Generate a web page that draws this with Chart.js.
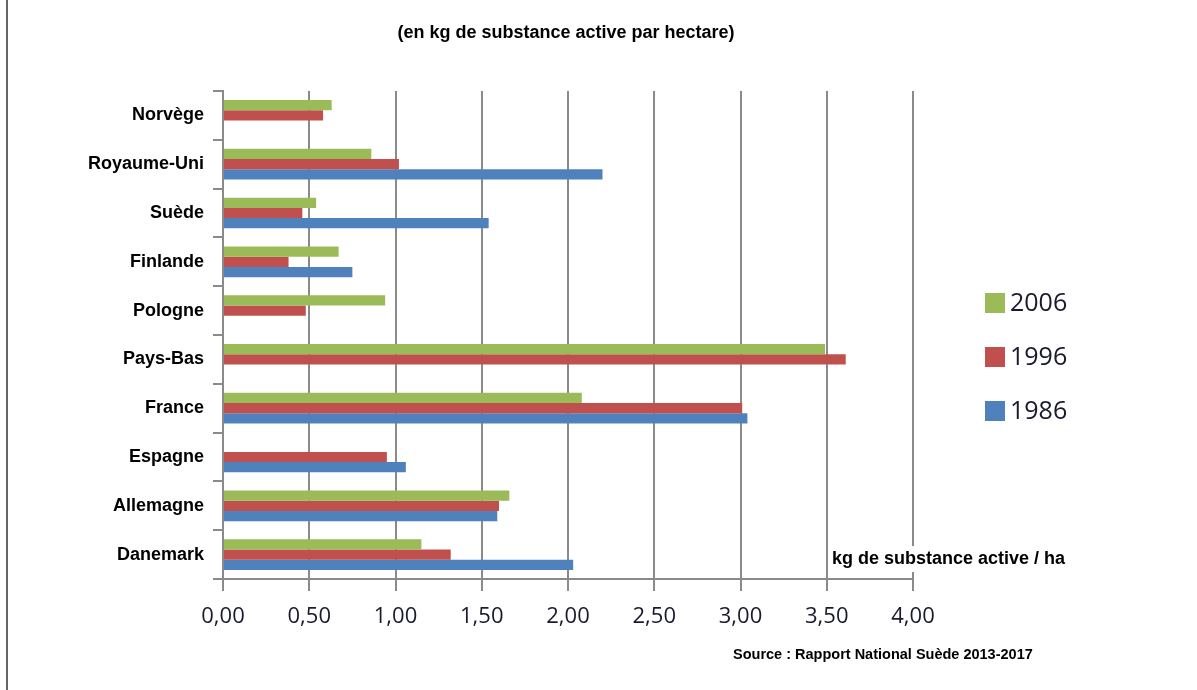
<!DOCTYPE html>
<html>
<head>
<meta charset="utf-8">
<script src="https://cdn.jsdelivr.net/npm/chart.js@4"></script>
<style>
  html, body { margin: 0; padding: 0; background: #fff; }
  #wrap { width: 1197px; height: 690px; }
</style>
</head>
<body>
<div id="wrap"><canvas id="myChart" width="1197" height="690"></canvas></div>
<script>
const categories = ["Norvège", "Royaume-Uni", "Suède", "Finlande", "Pologne", "Pays-Bas", "France", "Espagne", "Allemagne", "Danemark"];
const years = ["2006", "1996", "1986"];
const values2006 = [0.63, 0.86, 0.54, 0.67, 0.94, 3.49, 2.08, null, 1.66, 1.15];
const values1996 = [0.58, 1.02, 0.46, 0.38, 0.48, 3.61, 3.01, 0.95, 1.60, 1.32];
const values1986 = [null, 2.20, 1.54, 0.75, null, null, 3.04, 1.06, 1.59, 2.03];
const xTickLabels = ["0,00", "0,50", "1,00", "1,50", "2,00", "2,50", "3,00", "3,50", "4,00"];

const colors = ["#9BBB59", "#C0504D", "#4F81BD"];
const gridGray = "#8a8a8a";

const titleText = "(en kg de substance active par hectare)";
const unitText = "kg de substance active / ha";
const sourceText = "Source : Rapport National Suède 2013-2017";

// extra texts, legend and left frame line drawn on the canvas
const decorations = {
  id: "decorations",
  beforeDraw(chart) {
    const c = chart.ctx;
    c.save();
    c.fillStyle = "#fff";
    c.fillRect(0, 0, chart.width, chart.height);
    c.fillStyle = "#666";
    c.fillRect(6, 0, 2, chart.height);
    c.restore();
  },
  afterDraw(chart) {
    const c = chart.ctx;
    c.save();
    c.fillStyle = "#000";
    c.textBaseline = "middle";

    c.font = "bold 18px 'Liberation Sans', Arial, sans-serif";
    c.textAlign = "center";
    c.fillText(titleText, 566, 33);

    c.textAlign = "left";
    const w = c.measureText(unitText).width;
    c.fillStyle = "#fff";
    c.fillRect(828, 546, w + 8, 26);
    c.fillStyle = "#000";
    c.fillText(unitText, 832, 559);

    c.font = "bold 14.5px 'Liberation Sans', Arial, sans-serif";
    c.fillText(sourceText, 733, 655);

    // legend
    c.font = "25px 'Open Sans', sans-serif";
    chart.data.datasets.forEach((ds, i) => {
      const y = 303 + i * 54;
      c.fillStyle = ds.backgroundColor;
      c.fillRect(985, y - 10, 20, 20);
      c.fillStyle = "#1a1a2e";
      c.fillText(ds.label, 1010, y + 1);
    });
    c.restore();
  }
};

const ctx = document.getElementById("myChart").getContext("2d");
const seriesValues = [values2006, values1996, values1986];

const myChart = new Chart(ctx, {
  type: "bar",
  data: {
    labels: categories,
    datasets: years.map((y, i) => ({
      label: y,
      data: seriesValues[i],
      backgroundColor: colors[i],
      borderWidth: 0,
      categoryPercentage: 0.63,
      barPercentage: 1,
    })),
  },
  options: {
    indexAxis: "y",
    responsive: false,
    animation: false,
    devicePixelRatio: 1,
    layout: { padding: { top: 91, right: 284, left: 0, bottom: 0 } },
    plugins: {
      legend: { display: false },
      title: { display: false },
      tooltip: { enabled: false },
    },
    scales: {
      x: {
        min: 0,
        max: 4,
        afterFit(scale) { scale.height = 111; },
        afterBuildTicks(scale) {
          scale.ticks = xTickLabels.map((t, i) => ({ value: i * 0.5 }));
        },
        ticks: {
          callback: (v, i) => xTickLabels[i],
          color: "#1a1a2e",
          font: { family: "'Open Sans', sans-serif", size: 22 },
          padding: 13,
          maxRotation: 0,
        },
        grid: { color: gridGray, lineWidth: 2, tickLength: 12, drawTicks: true },
        border: { color: gridGray, width: 2 },
      },
      y: {
        afterFit(scale) { scale.width = 223; },
        ticks: {
          color: "#000",
          font: { family: "'Liberation Sans', Arial, sans-serif", size: 18, weight: "bold" },
          padding: 9,
        },
        grid: { drawOnChartArea: false, drawTicks: true, tickLength: 10, color: gridGray, lineWidth: 2, offset: true },
        border: { color: gridGray, width: 2 },
      },
    },
  },
  plugins: [decorations],
});
</script>
</body>
</html>
